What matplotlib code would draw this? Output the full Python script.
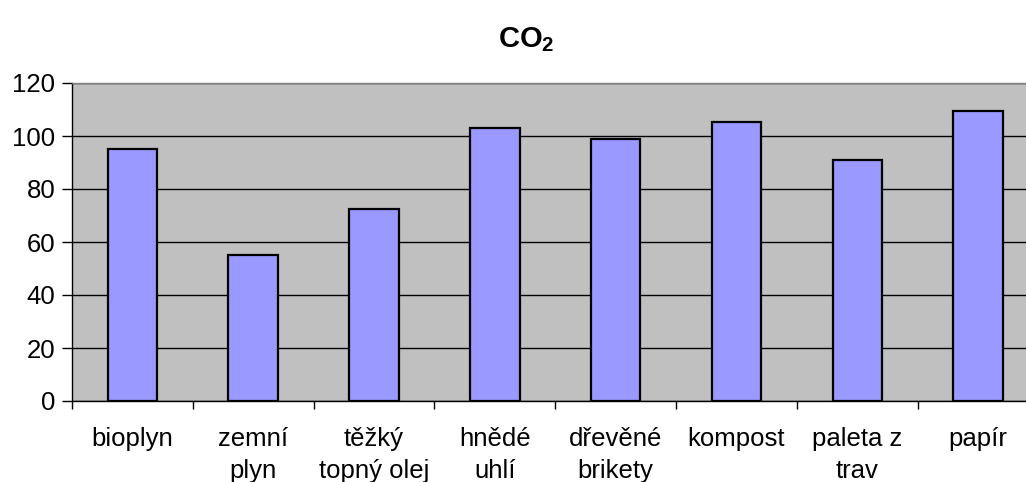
import matplotlib
matplotlib.use("Agg")
import matplotlib.pyplot as plt
import numpy as np

plt.rcParams['font.family'] = ['Liberation Sans', 'DejaVu Sans']
plt.rcParams['mathtext.default'] = 'regular'

categories = ["bioplyn", "zemní\nplyn", "těžký\ntopný olej", "hnědé\nuhlí",
              "dřevěné\nbrikety", "kompost", "paleta z\ntrav", "papír"]
co2_values = [95, 55, 72.6, 103.1, 98.9, 105.2, 90.8, 109.6]
y_ticks = [0, 20, 40, 60, 80, 100, 120]

W, H = 1026, 482
fig = plt.figure(figsize=(W / 100, H / 100), dpi=100)
left, right, top, bottom = 72, 1038.5, 83, 401
ax = fig.add_axes([left / W, 1 - bottom / H, (right - left) / W, (bottom - top) / H])
ax.set_facecolor('#C0C0C0')

x = np.arange(len(categories))
ax.set_axisbelow(True)
ax.yaxis.grid(True, color='black', linewidth=1.0)
ax.bar(x, co2_values, width=0.41, color='#9999FF', edgecolor='black', linewidth=1.6, zorder=3)

ax.set_xlim(-0.5, len(categories) - 0.5)
ax.set_ylim(0, 120)
ax.set_yticks(y_ticks)
ax.tick_params(axis='y', labelsize=18.5, length=7, width=1, direction='out', pad=5, color='black')

ax.set_xticks(np.arange(len(categories) + 1) - 0.5, minor=True)
ax.set_xticks(x)
ax.set_xticklabels(categories, fontsize=18.5, linespacing=1.42, va='top')
ax.tick_params(axis='x', which='major', length=0, pad=19)
ax.tick_params(axis='x', which='minor', length=6, width=1, color='black', direction='out')

for s in ax.spines.values():
    s.set_color('#808080')
    s.set_linewidth(1.0)
ax.spines['bottom'].set_color('black')
ax.spines['left'].set_color('black')

fig.text(526 / W, 1 - 40 / H, 'CO$_2$', ha='center', va='center', fontsize=21, fontweight='bold')

fig.savefig('out.png', dpi=100)
